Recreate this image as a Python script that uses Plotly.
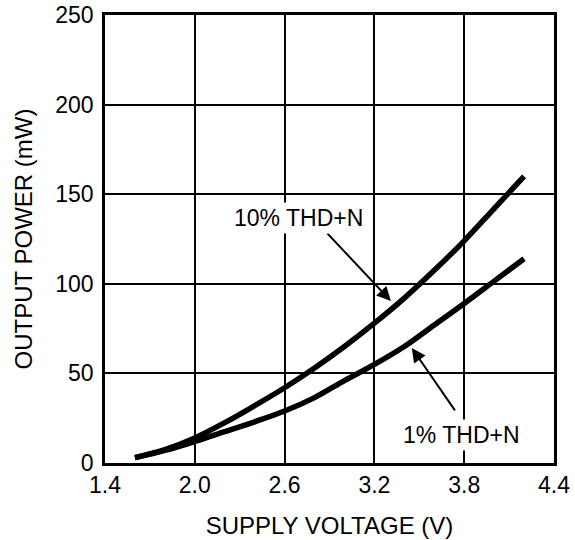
import plotly.graph_objects as go

voltage = [1.6, 1.8, 2.0, 2.2, 2.4, 2.6, 2.8, 3.0, 3.2, 3.4, 3.6, 3.8, 4.0, 4.2]
thd10 = [3, 7.5, 14, 22.5, 32, 42, 53, 65, 78, 92, 107.5, 124, 142, 160]
thd1 = [3, 7, 12, 17.5, 23, 29, 36.5, 46, 55, 65, 77, 89, 101.5, 114]

x_ticks = [1.4, 2.0, 2.6, 3.2, 3.8, 4.4]
x_tick_labels = ["1.4", "2.0", "2.6", "3.2", "3.8", "4.4"]
y_ticks = [0, 50, 100, 150, 200, 250]

font = "Liberation Sans, Arial, sans-serif"
fs_tick = 23
fs_title = 24
fs_ann = 23

fig = go.Figure()
fig.add_trace(go.Scatter(x=voltage, y=thd10, mode="lines", line=dict(color="black", width=5.5, shape="spline"), showlegend=False))
fig.add_trace(go.Scatter(x=voltage, y=thd1, mode="lines", line=dict(color="black", width=5.5, shape="spline"), showlegend=False))

# arrows
fig.add_annotation(x=3.31, y=90.4, ax=2.876, ay=129, xref="x", yref="y", axref="x", ayref="y",
                   text="", showarrow=True, arrowhead=2, arrowsize=1.4, arrowwidth=2, arrowcolor="black")
fig.add_annotation(x=3.45, y=64.2, ax=3.745, ay=28.5, xref="x", yref="y", axref="x", ayref="y",
                   text="", showarrow=True, arrowhead=2, arrowsize=1.4, arrowwidth=2, arrowcolor="black")
# labels
fig.add_annotation(x=2.69, y=137, xref="x", yref="y", text="10% THD+N", showarrow=False,
                   font=dict(family=font, size=fs_ann, color="black"), bgcolor="white", borderpad=2)
fig.add_annotation(x=3.785, y=15.6, xref="x", yref="y", text="1% THD+N", showarrow=False,
                   font=dict(family=font, size=fs_ann, color="black"), bgcolor="white", borderpad=2)

fig.update_xaxes(range=[1.4, 4.4], tickvals=x_ticks, ticktext=x_tick_labels,
                 showgrid=True, gridcolor="black", gridwidth=1.5,
                 showline=True, linecolor="black", linewidth=2.5, mirror=True,
                 zeroline=False, ticks="", ticklen=0, automargin=False, ticklabeloverflow="allow",
                 tickfont=dict(family=font, size=fs_tick, color="black"),
                 title=dict(text="SUPPLY VOLTAGE (V)", font=dict(family=font, size=fs_title, color="black"), standoff=20))
fig.update_yaxes(range=[0, 250], tickvals=y_ticks,
                 showgrid=True, gridcolor="black", gridwidth=1.5,
                 showline=True, linecolor="black", linewidth=2.5, mirror=True,
                 zeroline=False, ticks="", ticklen=0, automargin=False, ticklabelstandoff=4,
                 ticklabeloverflow="allow",
                 tickfont=dict(family=font, size=fs_tick, color="black"),
                 title=dict(text="OUTPUT POWER (mW)", font=dict(family=font, size=fs_title, color="black"), standoff=16))

fig.update_layout(width=575, height=540, margin=dict(l=105, r=21, t=15, b=77),
                  plot_bgcolor="white", paper_bgcolor="white", font=dict(family=font))

fig.write_html("out.html", config={"displayModeBar": False},
               post_script="document.body.style.margin='0';document.body.style.overflow='hidden';")
